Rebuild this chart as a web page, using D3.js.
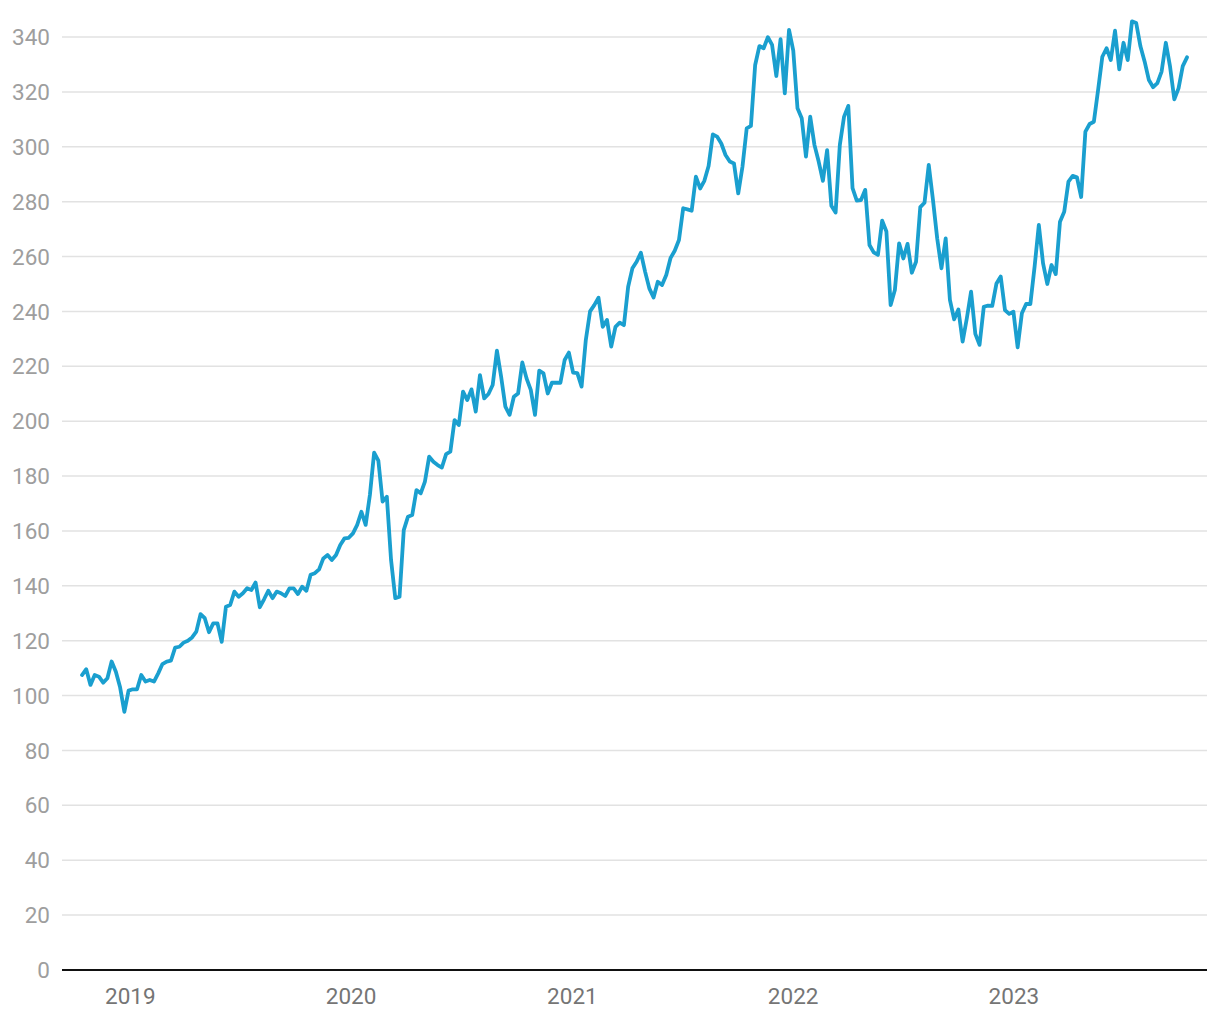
<!DOCTYPE html>
<html>
<head>
<meta charset="utf-8">
<script src="https://cdn.jsdelivr.net/npm/d3@7"></script>
<style>
  html, body { margin: 0; padding: 0; background: #fff; }
  svg { display: block; font-family: Roboto, "Noto Sans", sans-serif; }
</style>
</head>
<body>
<svg id="chart" width="1220" height="1020"></svg>
<script>
// Weekly values, first week starting 2018-10-14
const startDate = "2018-10-14";
const values = [
  107.5, 109.6, 103.9, 107.5, 106.9, 104.7, 106.3, 112.4, 108.7, 103.0,
  94.1, 101.8, 102.3, 102.3, 107.5, 105.1, 105.7, 105.1, 108.1, 111.5,
  112.4, 112.7, 117.5, 117.8, 119.3, 120.0, 121.2, 123.3, 129.7, 128.2,
  123.1, 126.3, 126.3, 119.6, 132.4, 133.0, 137.9, 136.0, 137.3, 139.1,
  138.5, 141.2, 132.2, 135.1, 138.2, 135.5, 137.9, 137.3, 136.3, 139.1,
  139.1, 137.0, 139.7, 138.2, 144.0, 144.6, 146.0, 150.0, 151.2, 149.4,
  151.2, 154.9, 157.3, 157.5, 159.1, 162.2, 167.0, 162.2, 173.1, 188.5,
  185.6, 170.7, 172.5, 149.4, 135.5, 136.0, 160.3, 165.2, 165.8, 174.9,
  173.7, 178.0, 187.1, 185.2, 184.0, 183.1, 188.0, 188.9, 200.4, 198.6,
  210.8, 207.7, 211.6, 203.5, 216.8, 208.3, 209.9, 213.2, 225.7, 216.2,
  205.3, 202.3, 208.9, 210.1, 221.4, 215.6, 211.4, 202.3, 218.4, 217.4,
  210.1, 214.0, 214.0, 214.0, 222.3, 225.0, 217.7, 217.5, 212.6, 229.6,
  240.0, 242.3, 245.0, 234.4, 236.9, 227.2, 234.4, 235.9, 235.0, 249.0,
  255.7, 258.1, 261.4, 254.5, 248.4, 245.1, 250.8, 249.6, 253.3, 259.4,
  262.1, 266.0, 277.6, 277.2, 276.7, 289.1, 284.8, 287.6, 293.0, 304.5,
  303.7, 301.2, 297.0, 294.6, 293.9, 283.0, 292.7, 306.7, 307.6, 329.8,
  336.7, 335.9, 339.9, 337.1, 325.8, 339.2, 319.5, 342.6, 335.0, 314.0,
  310.4, 296.4, 311.0, 300.7, 294.6, 287.6, 298.8, 278.5, 276.0, 300.7,
  311.0, 314.9, 284.9, 280.4, 280.6, 284.3, 264.2, 261.5, 260.6, 273.1,
  269.1, 242.3, 247.8, 264.8, 259.3, 264.6, 254.1, 258.1, 278.0, 279.6,
  293.4, 280.6, 266.6, 255.7, 266.6, 244.2, 237.1, 240.7, 229.0, 237.5,
  247.2, 231.8, 227.8, 241.7, 242.1, 242.0, 250.2, 252.7, 240.5, 239.1,
  239.9, 226.9, 239.3, 242.7, 242.7, 256.3, 271.5, 257.5, 250.0, 256.9,
  253.6, 272.7, 276.3, 287.3, 289.4, 288.9, 281.7, 305.5, 308.3, 309.1,
  320.7, 332.8, 335.9, 331.6, 342.3, 328.2, 337.9, 331.6, 345.7, 345.1,
  336.6, 331.0, 324.3, 321.7, 323.2, 327.4, 337.9, 329.2, 317.3, 321.3,
  329.4, 332.6
];
const yTicks = [0, 20, 40, 60, 80, 100, 120, 140, 160, 180, 200, 220, 240, 260, 280, 300, 320, 340];
const xTickLabels = ["2019", "2020", "2021", "2022", "2023"];

const parse = d3.timeParse("%Y-%m-%d");
const t0 = parse(startDate);
const data = values.map((v, i) => ({ date: d3.timeWeek.offset(t0, i), value: v }));

const svg = d3.select("#chart");
const x = d3.scaleTime()
  .domain(d3.extent(data, d => d.date))
  .range([82, 1187]);
const y = d3.scaleLinear().domain([0, 340]).range([970, 37]);

// gridlines
svg.append("g")
  .selectAll("line")
  .data(yTicks.filter(d => d !== 0))
  .join("line")
  .attr("x1", 62).attr("x2", 1207)
  .attr("y1", d => y(d)).attr("y2", d => y(d))
  .attr("stroke", "#e2e2e2").attr("stroke-width", 1.5);

// y labels
svg.append("g")
  .selectAll("text")
  .data(yTicks)
  .join("text")
  .attr("x", 50)
  .attr("y", d => y(d))
  .attr("dy", "0.36em")
  .attr("text-anchor", "end")
  .attr("fill", "#9e9e9e")
  .style("font-size", "22.5px")
  .text(d => d);

// x axis
const xAxis = d3.axisBottom(x)
  .tickValues(xTickLabels.map(s => parse(s + "-01-01")))
  .tickFormat(d3.timeFormat("%Y"))
  .tickSize(0)
  .tickPadding(18);
const gx = svg.append("g").attr("transform", "translate(0,970)").call(xAxis);
gx.select(".domain").remove();
gx.selectAll("text")
  .attr("fill", "#757575")
  .style("font-size", "22.5px")
  .style("font-family", "Roboto, sans-serif");
svg.append("line")
  .attr("x1", 62).attr("x2", 1207)
  .attr("y1", 970).attr("y2", 970)
  .attr("stroke", "#111").attr("stroke-width", 2);

// line
const line = d3.line().x(d => x(d.date)).y(d => y(d.value));
svg.append("path")
  .datum(data)
  .attr("fill", "none")
  .attr("stroke", "#1a9fcf")
  .attr("stroke-width", 3.8)
  .attr("stroke-linejoin", "round")
  .attr("stroke-linecap", "round")
  .attr("d", line);
</script>
</body>
</html>
